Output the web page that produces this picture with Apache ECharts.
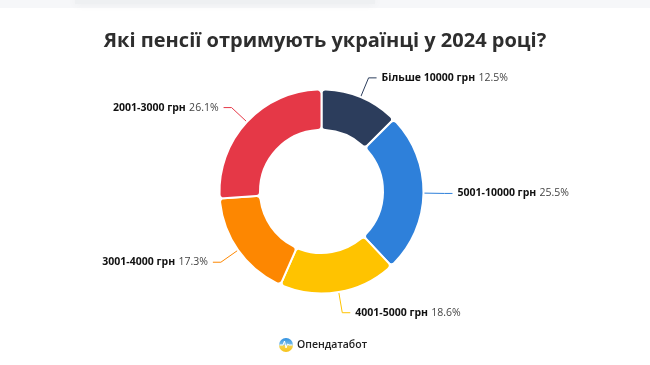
<!DOCTYPE html>
<html>
<head>
<meta charset="utf-8">
<script src="https://cdn.jsdelivr.net/npm/echarts@6/dist/echarts.min.js"></script>
<style>html,body{margin:0;padding:0;background:#fff;}#c{width:650px;height:365px;}</style>
</head>
<body>
<div id="c"></div>
<script>
const titleText = 'Які пенсії отримують українці у 2024 році?';
const categories = ['Більше 10000 грн', '5001-10000 грн', '4001-5000 грн', '3001-4000 грн', '2001-3000 грн'];
const values = [12.5, 25.5, 18.6, 17.3, 26.1];
const colors = ['#2c3d5c', '#2e80da', '#ffc300', '#fd8701', '#e53847'];
const sourceText = 'Опендатабот';

const chart = echarts.init(document.getElementById('c'));
chart.setOption({
  animation: false,
  title: {
    text: titleText, left: 'center', top: 26,
    textStyle: { fontFamily: 'Open Sans', fontWeight: 'bold', fontSize: 20, color: '#2e2e2e' }
  },
  graphic: [
    { type: 'rect', shape: { x: 0, y: 0, width: 650, height: 8 }, style: { fill: '#f6f7f9' }, z: -1 },
    { type: 'rect', shape: { x: 75, y: -4, width: 300, height: 8 }, style: { fill: '#eef0f2', shadowBlur: 10, shadowColor: 'rgba(0,0,0,0.05)' }, z: -1 },
    { type: 'circle', shape: { cx: 286, cy: 345, r: 7 },
      style: { fill: new echarts.graphic.LinearGradient(0, 0, 0, 1, [
        { offset: 0, color: '#2f8fe0' }, { offset: 0.5, color: '#7cc0e8' }, { offset: 0.55, color: '#f6d34a' }, { offset: 1, color: '#f5c21b' }]) } },
    { type: 'polyline', shape: { points: [[279.5, 345], [283, 345], [284.5, 341], [286, 348], [287.5, 344], [289, 345], [292.5, 345]] },
      style: { stroke: '#fff', lineWidth: 1, fill: null } },
    { type: 'text', style: { text: sourceText, x: 297, y: 345, verticalAlign: 'middle', fontFamily: 'Open Sans', fontWeight: 600, fontSize: 10.5, fill: '#222' } }
  ],
  series: [{
    type: 'pie',
    center: [321.5, 191.5],
    radius: [61.5, 102],
    startAngle: 90,
    clockwise: true,
    avoidLabelOverlap: false,
    itemStyle: { borderColor: '#fff', borderWidth: 2, borderRadius: 4 },
    label: {
      formatter: p => '{b|' + p.name + '} {v|' + p.value + '%}',
      distanceToLabelLine: 5,
      rich: {
        b: { fontFamily: 'Open Sans', fontWeight: 'bold', fontSize: 10.5, color: '#111' },
        v: { fontFamily: 'Open Sans', fontSize: 10.5, color: '#444' }
      }
    },
    labelLine: { length: 21, length2: 8, lineStyle: { width: 1 } },
    data: categories.map((c, i) => ({ name: c, value: values[i], itemStyle: { color: colors[i] } }))
  }]
});
</script>
</body>
</html>
